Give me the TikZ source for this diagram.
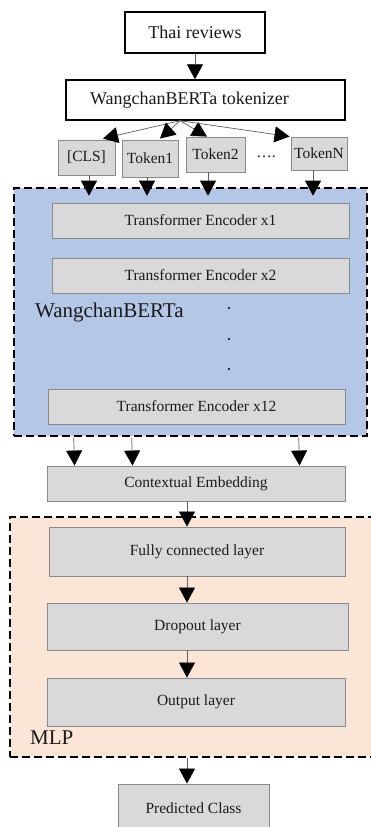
\documentclass[tikz,border=0pt]{standalone}
\usepackage{fontspec}
\setmainfont{Liberation Serif}
\usetikzlibrary{arrows.meta,calc}
\definecolor{bertblue}{HTML}{B4C7E7}
\definecolor{mlppeach}{HTML}{FBE5D6}
\definecolor{boxgray}{HTML}{D9D9D9}
\definecolor{edgegray}{HTML}{8A8A8A}
\definecolor{txt}{HTML}{1A1A1A}
\begin{document}
\begin{tikzpicture}[x=1pt,y=-1pt,
  wbox/.style={draw=black, line width=1.4pt, fill=white, inner sep=0pt, font=\fontsize{18}{21}\selectfont, text=txt},
  gbox/.style={draw=edgegray, line width=0.9pt, fill=boxgray, inner sep=0pt, font=\fontsize{15.5}{18}\selectfont, text=txt},
  groupbox/.style={draw=black, line width=2.6pt, dash pattern=on 8pt off 4pt, inner sep=0pt},
  arr/.style={draw=gray!75!black, line width=0.7pt, -{Triangle[width=16pt,length=15pt,color=black]}},
  bigtext/.style={font=\fontsize{21}{24}\selectfont, text=txt, inner sep=0pt},
]
\useasboundingbox (0,0) rectangle (371,827);
\clip (0,0) rectangle (371,827);
\fill[white] (0,0) rectangle (371,827);

% group boxes
\node[groupbox, fill=bertblue, minimum width=353pt, minimum height=248pt] (bert) at (190.5,312) {};
\node[groupbox, fill=mlppeach, minimum width=375pt, minimum height=240pt] (mlp) at (197.5,637) {};

% top boxes
\node[wbox, minimum width=140pt, minimum height=41pt] (thai) at (195,32.5) {Thai reviews};
\node[wbox, minimum width=279pt, minimum height=40pt] (tok) at (205.5,100) {};
\node[font=\fontsize{18}{21}\selectfont, text=txt, inner sep=0pt] (toktext) at (189.5,100) {WangchanBERTa tokenizer};

% tokens
\node[gbox, minimum width=57pt, minimum height=35pt] (cls) at (86.5,157.5) {[CLS]};
\node[gbox, minimum width=56pt, minimum height=37pt] (t1) at (150,158.5) {Token1};
\node[gbox, minimum width=59pt, minimum height=35pt] (t2) at (215.5,154.5) {Token2};
\node[gbox, minimum width=56pt, minimum height=33pt] (tn) at (319,153.5) {TokenN};
\node[font=\fontsize{15.5}{18}\selectfont, text=txt, inner sep=0pt] (dots) at (266,157) {\dots.};

% encoders
\node[gbox, minimum width=297pt, minimum height=35pt] (enc1) at (200.5,220.5) {Transformer Encoder x1};
\node[gbox, minimum width=297pt, minimum height=35pt] (enc2) at (200.5,275.5) {Transformer Encoder x2};
\node[gbox, minimum width=297pt, minimum height=35pt] (enc12) at (196.5,406.5) {Transformer Encoder x12};
\node[bigtext, anchor=west] (bertlabel) at (35,312) {WangchanBERTa};
\fill[black] (229,308) circle (1.1pt) (229,339) circle (1.1pt) (229,369) circle (1.1pt);

% contextual embedding
\node[gbox, minimum width=298pt, minimum height=35pt] (ce) at (196,483.5) {Contextual Embedding};

% MLP
\node[gbox, minimum width=296pt, minimum height=49pt] (fc) at (197,551.5) {Fully connected layer};
\node[gbox, minimum width=301pt, minimum height=47pt] (drop) at (197.5,626.5) {Dropout layer};
\node[gbox, minimum width=298pt, minimum height=48pt] (out) at (196,702) {Output layer};
\node[bigtext, anchor=west] (mlplabel) at (30,738) {MLP};

% predicted
\node[gbox, minimum width=151pt, minimum height=48pt] (pred) at (193.5,808) {Predicted Class};

\coordinate (ax) at (187,0);

% arrows
\draw[arr] (thai.south) -- (thai.south |- tok.north);
\coordinate (fan) at ($(tok.south)+(-25.5,0)$);
\draw[arr] (fan) -- ($(cls.north)+(16.5,-1)$);
\draw[arr] (fan) -- ($(t1.north)+(10,-1)$);
\draw[arr] (fan) -- ($(t2.north)+(-8.5,0)$);
\draw[arr] (fan) -- ($(tn.north west)+(-1,0)$);

\draw[arr] ($(cls.south)+(2.5,0)$) -- ($(bert.north)+(-101.5,9)$);
\draw[arr] ($(t1.south)+(-3,0)$) -- ($(bert.north)+(-43.5,9)$);
\draw[arr] ($(t2.south)+(-7.5,0)$) -- ($(bert.north)+(17.5,9)$);
\draw[arr] ($(tn.south)+(-6,0)$) -- ($(bert.north)+(122.5,9)$);

\draw[arr] ($(bert.south west)+(61,0)$) -- ($(ce.north west)+(28,0)$);
\draw[arr] ($(bert.south west)+(119,0)$) -- ($(ce.north west)+(86,0)$);
\draw[arr] ($(bert.south west)+(286,0)$) -- ($(ce.north west)+(253,0)$);

\draw[arr] (ce.south -| ax) -- (fc.north -| ax);
\draw[arr] (fc.south -| ax) -- (drop.north -| ax);
\draw[arr] (drop.south -| ax) -- (out.north -| ax);
\draw[arr] (mlp.south -| ax) -- (pred.north -| ax);
\end{tikzpicture}
\end{document}
